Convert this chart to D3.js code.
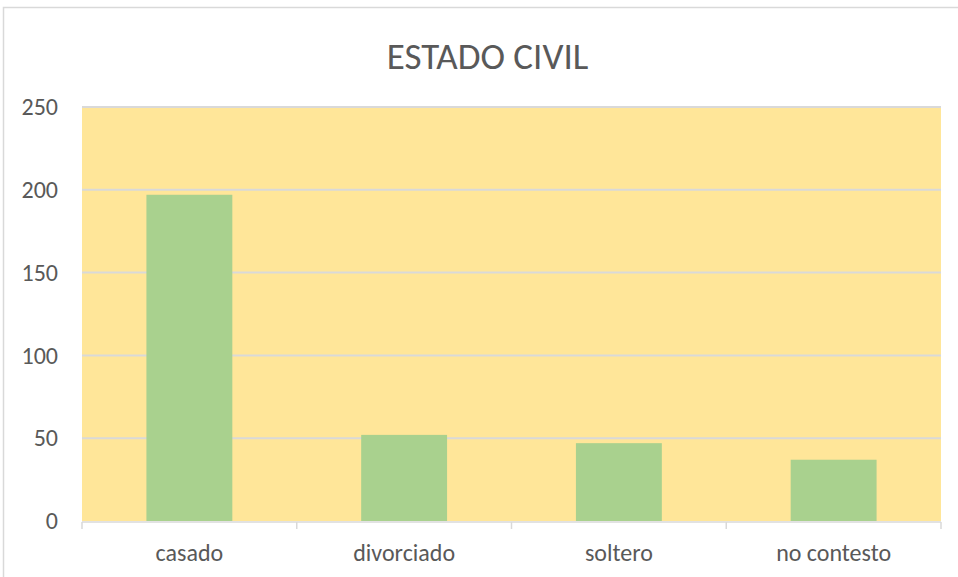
<!DOCTYPE html>
<html><head><meta charset="utf-8">
<script src="https://cdn.jsdelivr.net/npm/d3@7"></script>
<style>body{margin:0;background:#fff;}svg{display:block;}</style>
</head><body>
<script>
const categories = ["casado", "divorciado", "soltero", "no contesto"];
const values = [197, 52, 47, 37];
const yTicks = [0, 50, 100, 150, 200, 250];
const title = "ESTADO CIVIL";

const W = 958, H = 577;
const m = {left: 82, right: 17, top: 107, bottom: 56};
const svg = d3.select("body").append("svg").attr("width", W).attr("height", H);
const font = "Carlito, 'Open Sans', 'Liberation Sans', sans-serif";

// chart border
svg.append("rect").attr("x", 3.5).attr("y", 7.5).attr("width", W + 10).attr("height", H + 10)
  .attr("fill", "#fff").attr("stroke", "#D9D9D9").attr("stroke-width", 1.5);

const x = d3.scaleBand().domain(categories).range([m.left, W - m.right]).paddingInner(0).paddingOuter(0);
const y = d3.scaleLinear().domain([0, 250]).range([H - m.bottom, m.top]);

// plot background
svg.append("rect").attr("x", m.left).attr("y", y(250)).attr("width", W - m.right - m.left)
  .attr("height", y(0) - y(250)).attr("fill", "#FFE699");

// gridlines
svg.append("g").selectAll("line").data(yTicks.filter(d => d > 0)).join("line")
  .attr("x1", m.left).attr("x2", W - m.right).attr("y1", d => y(d)).attr("y2", d => y(d))
  .attr("stroke", "#D9D9D9").attr("stroke-width", 2);

// bars
const bw = x.bandwidth() * 0.4;
svg.append("g").selectAll("rect").data(values).join("rect")
  .attr("x", (d, i) => x(categories[i]) + x.bandwidth() / 2 - bw / 2)
  .attr("y", d => y(d)).attr("width", bw).attr("height", d => y(0) - y(d))
  .attr("fill", "#A9D18E");

// y axis labels
const yAxis = d3.axisLeft(y).tickValues(yTicks).tickSize(0).tickPadding(24);
const gy = svg.append("g").attr("transform", `translate(${m.left},0)`).call(yAxis);
gy.select(".domain").remove();
gy.selectAll("text").attr("fill", "#595959").style("font-family", font).style("font-size", "24px");

// x axis
const xAxis = d3.axisBottom(x).tickSize(0).tickPadding(22);
const gx = svg.append("g").attr("transform", `translate(0,${y(0) + 1})`).call(xAxis);
gx.select(".domain").attr("stroke", "#D9D9D9").attr("stroke-width", 1.5).attr("d", `M${m.left},0H${W - m.right}`);
gx.selectAll("text").attr("fill", "#595959").style("font-family", font).style("font-size", "24px");
// category boundary tick marks
const bounds = categories.map(c => x(c)).concat([W - m.right]);
svg.append("g").selectAll("line").data(bounds).join("line")
  .attr("x1", d => d).attr("x2", d => d).attr("y1", y(0) + 1).attr("y2", y(0) + 8)
  .attr("stroke", "#D9D9D9").attr("stroke-width", 1.5);

// title
svg.append("text").attr("x", 487.5).attr("y", 69)
  .attr("text-anchor", "middle").attr("fill", "#595959")
  .style("font-family", font).style("font-size", "37px").text(title);
</script>
</body></html>
